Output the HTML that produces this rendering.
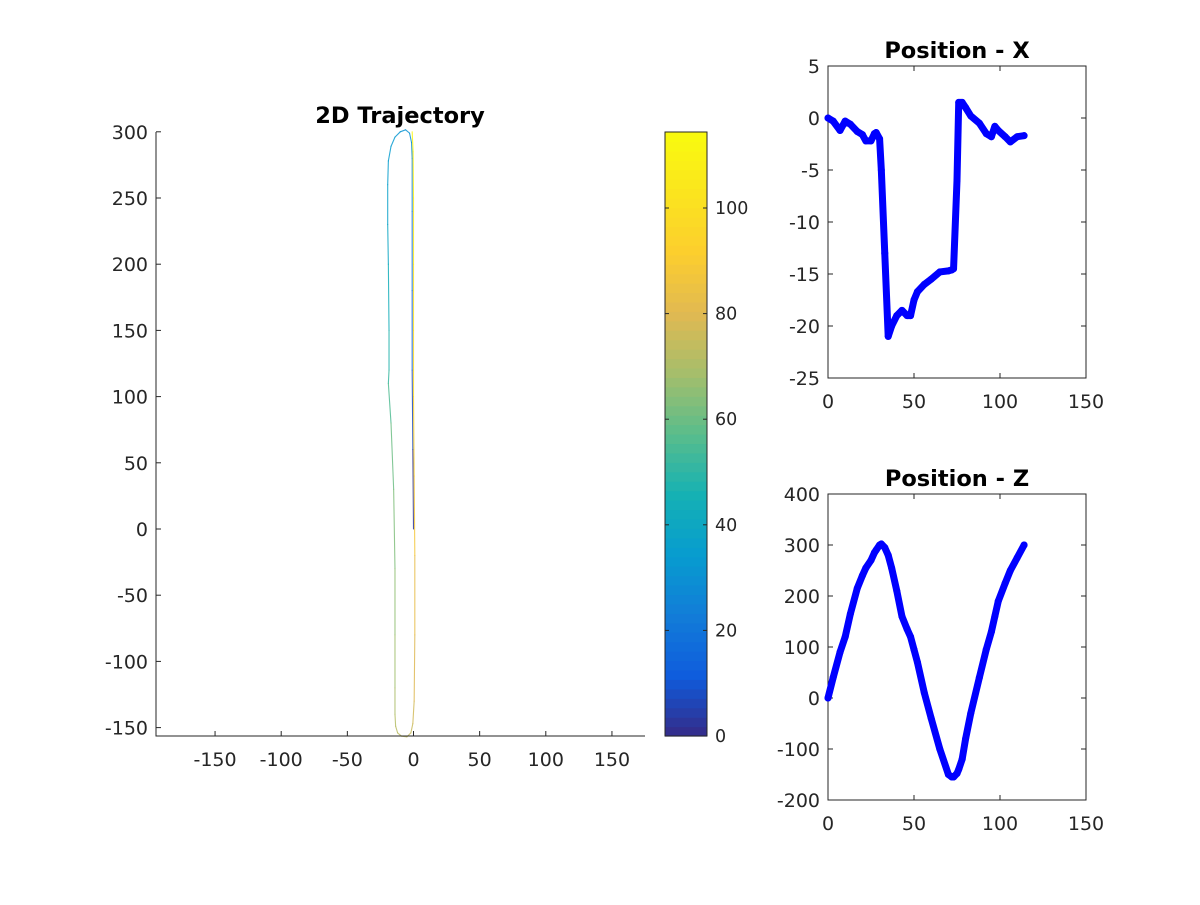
<!DOCTYPE html>
<html><head><meta charset="utf-8"><style>
body{margin:0;background:#fff}
svg{font-family:"DejaVu Sans","Liberation Sans",sans-serif}
</style></head><body>
<svg id="fig" width="1200" height="900" xmlns="http://www.w3.org/2000/svg">
<rect width="1200" height="900" fill="#fff"/>
<g id="traj"></g>
<g id="cbar"></g>
<g id="px"></g>
<g id="pz"></g>
</svg>
<script>
const times = [0,3,7,10,13,17,20,22,25,27,28,30,31,33,35,37,40,43,46,48,50,52,56,60,65,70,72,73,75,76,78,80,83,88,92,95,97,99,103,106,110,114];
const posX = [0,-0.3,-1.2,-0.3,-0.6,-1.3,-1.6,-2.2,-2.2,-1.5,-1.4,-2,-5,-13,-21,-20,-19,-18.5,-19,-19,-17.5,-16.7,-16,-15.5,-14.8,-14.7,-14.6,-14.5,-6,1.5,1.5,1,0.2,-0.5,-1.5,-1.8,-0.8,-1.2,-1.8,-2.3,-1.8,-1.7];
const posZ = [0,40,90,120,165,215,240,255,270,285,290,300,302,295,280,255,210,160,135,120,95,70,10,-40,-100,-150,-155,-155,-148,-140,-120,-80,-30,40,95,130,160,190,225,250,275,300];
const trajX = [0,-0.5,-1,-1,-1,-1,-1.5,-3,-6,-10,-14,-17,-19,-19.5,-19.5,-19,-18.5,-18.5,-19,-17,-15,-14,-14,-14,-14,-13.5,-12,-9,-5,-2,-0.5,0.5,1,1,0.5,0,0,0,0,-0.3,-1];
const trajY = [0,60,120,180,240,280,292,299,301.5,300,296,289,278,260,230,200,150,120,110,80,30,-30,-80,-120,-140,-149,-154,-156.5,-157,-154,-147,-130,-80,-20,40,100,150,200,250,285,300];
const trajT = [0,5,10,16,22,27,29,30,31,32,33,34,35,36,38,41,46,50,53,58,62,64,67,69,71,72,72.5,73,74,75,76,78,81,85,90,95,99,103,107,111,114];
const xTicks = [-150,-100,-50,0,50,100,150];
const yTicks = [-150,-100,-50,0,50,100,150,200,250,300];
const cTicks = [0,20,40,60,80,100];
const pTicksX = [0,50,100,150];
const pxTicksY = [-25,-20,-15,-10,-5,0,5];
const pzTicksY = [-200,-100,0,100,200,300,400];

const NS="http://www.w3.org/2000/svg";
function mk(parent,tag,attrs,text){const e=document.createElementNS(NS,tag);for(const k in attrs)e.setAttribute(k,attrs[k]);if(text!==undefined)e.textContent=text;parent.appendChild(e);return e;}
const parula=[[0,[53,42,135]],[0.1,[15,92,221]],[0.2,[18,125,216]],[0.3,[7,156,207]],[0.4,[21,177,180]],[0.5,[89,189,140]],[0.6,[165,190,107]],[0.7,[225,185,82]],[0.8,[252,206,46]],[1,[249,251,14]]];
function cmap(v){v=Math.max(0,Math.min(1,v));for(let i=1;i<parula.length;i++){if(v<=parula[i][0]){const a=parula[i-1],b=parula[i];const f=(v-a[0])/(b[0]-a[0]);const c=a[1].map((x,j)=>Math.round(x+(b[1][j]-x)*f));return `rgb(${c[0]},${c[1]},${c[2]})`;}}return 'rgb(249,251,14)';}
const tc="#262626",fs=19;

// trajectory
const T=document.getElementById('traj');
const tx=v=>413.5+v*1.323, ty=v=>529+(-v)*1.324;
const L=156,R=645,Tp=132,B=736;
for(let i=1;i<trajX.length;i++){
  const s=mk(T,'line',{x1:tx(trajX[i-1]),y1:ty(trajY[i-1]),x2:tx(trajX[i]),y2:ty(trajY[i]),stroke:cmap((trajT[i-1]+trajT[i])/2/114.4),'stroke-width':1.1,'stroke-linecap':'round','stroke-opacity':0.85});
  
  
}
mk(T,'path',{d:`M${L},${Tp}V${B}H${R}`,fill:'none',stroke:tc,'stroke-width':1});
xTicks.forEach(v=>{mk(T,'line',{x1:tx(v),x2:tx(v),y1:B,y2:B-5,stroke:tc});const t=mk(T,'text',{x:tx(v),y:B+30,'text-anchor':'middle','font-size':fs,fill:tc},v);});
yTicks.forEach(v=>{mk(T,'line',{x1:L,x2:L+5,y1:ty(v),y2:ty(v),stroke:tc});const t=mk(T,'text',{x:L-8,y:ty(v)+7,'text-anchor':'end','font-size':fs,fill:tc},v);});
const tt=mk(T,'text',{x:400,y:123,'text-anchor':'middle','font-size':22.5,'font-weight':'bold',fill:'#000'},'2D Trajectory');


// colorbar
const C=document.getElementById('cbar');
const cy=v=>736-v*5.28;
for(let i=0;i<64;i++){const v0=i*114.4/64,v1=(i+1)*114.4/64;mk(C,'rect',{x:665,y:cy(v1),width:42,height:cy(v0)-cy(v1)+0.6,fill:cmap((v0+v1)/2/114.4)});}
mk(C,'rect',{x:665,y:132,width:42,height:604,fill:'none',stroke:tc});
cTicks.forEach(v=>{mk(C,'line',{x1:707,x2:703,y1:cy(v),y2:cy(v),stroke:tc});mk(C,'line',{x1:665,x2:669,y1:cy(v),y2:cy(v),stroke:tc});const t=mk(C,'text',{x:715,y:cy(v)+6,'font-size':17.5,fill:tc},v);});

// position plots
function posPlot(G,top,bot,ymin,ymax,ticks,vals,title){
  const l=828,r=1086;
  const xs=v=>l+v*(r-l)/150, ys=v=>bot-(v-ymin)*(bot-top)/(ymax-ymin);
  mk(G,'rect',{x:l,y:top,width:r-l,height:bot-top,fill:'none',stroke:tc});
  pTicksX.forEach(v=>{mk(G,'line',{x1:xs(v),x2:xs(v),y1:bot,y2:bot-5,stroke:tc});mk(G,'line',{x1:xs(v),x2:xs(v),y1:top,y2:top+5,stroke:tc});const t=mk(G,'text',{x:xs(v),y:bot+30,'text-anchor':'middle','font-size':fs,fill:tc},v);});
  ticks.forEach(v=>{mk(G,'line',{x1:l,x2:l+5,y1:ys(v),y2:ys(v),stroke:tc});mk(G,'line',{x1:r,x2:r-5,y1:ys(v),y2:ys(v),stroke:tc});const t=mk(G,'text',{x:l-8,y:ys(v)+7,'text-anchor':'end','font-size':fs,fill:tc},v);});
  const pts=times.map((t,i)=>xs(t)+','+ys(vals[i])).join(' ');
  const pl=mk(G,'polyline',{points:pts,fill:'none',stroke:'#0000ff','stroke-width':7,'stroke-linejoin':'round','stroke-linecap':'round'});
  
  times.forEach((t,i)=>{const c=mk(G,'circle',{cx:xs(t),cy:ys(vals[i]),r:3.5,fill:'#0000ff'});});
  const ti=mk(G,'text',{x:957,y:top-8,'text-anchor':'middle','font-size':22.5,'font-weight':'bold',fill:'#000'},title);
  
}
posPlot(document.getElementById('px'),66,378,-25,5,pxTicksY,posX,'Position - X');
posPlot(document.getElementById('pz'),494,800,-200,400,pzTicksY,posZ,'Position - Z');
</script>
</body></html>
